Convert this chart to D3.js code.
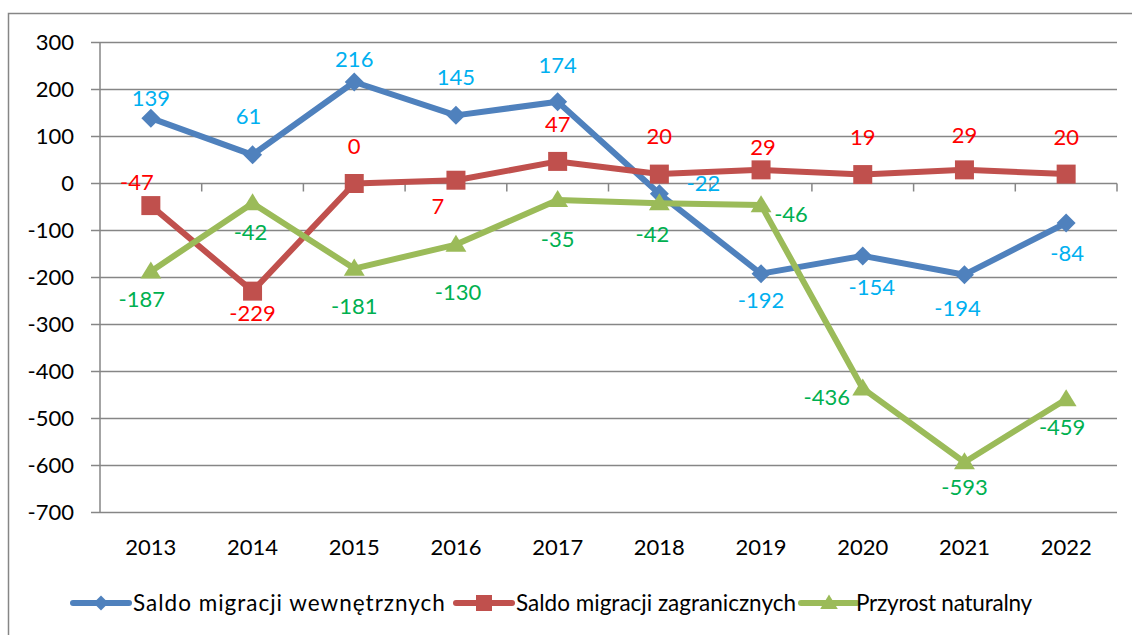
<!DOCTYPE html>
<html>
<head>
<meta charset="utf-8">
<script src="https://cdn.jsdelivr.net/npm/d3@7"></script>
<style>
  html, body { margin: 0; padding: 0; background: #fff; }
  svg { display: block; font-family: Lato, "Open Sans", sans-serif; }
</style>
</head>
<body>
<div id="chart"></div>
<script>
const years = ["2013", "2014", "2015", "2016", "2017", "2018", "2019", "2020", "2021", "2022"];
const internalMigration = [139, 61, 216, 145, 174, -22, -192, -154, -194, -84];
const foreignMigration = [-47, -229, 0, 7, 47, 20, 29, 19, 29, 20];
const naturalGrowth = [-187, -42, -181, -130, -35, -42, -46, -436, -593, -459];
const yTicks = [300, 200, 100, 0, -100, -200, -300, -400, -500, -600, -700];

// label offsets (dx, dy) from each point, like the placement in the original
const labelPos = {
    internal: [[0,-20],[-4,-39],[0,-23],[0,-38],[0,-37],[44,-11],[0,26],[9,31],[-7,33],[1,30]],
    foreign: [[-14,-24],[0,22],[0,-37],[-18,26],[0,-37],[0,-38],[2,-23],[0,-37],[0,-35],[0,-37]],
    natural: [[-9,28],[-2,29],[0,38],[2,47],[0,39],[-7,31],[30,9],[-36,9],[0,25],[-4,28]]
};

const series = [
    { key: "internal", name: "Saldo migracji wewnętrznych", values: internalMigration,
      color: "#4F81BD", labelColor: "#00B0F0", marker: "diamond" },
    { key: "foreign", name: "Saldo migracji zagranicznych", values: foreignMigration,
      color: "#C0504D", labelColor: "#FF0000", marker: "square" },
    { key: "natural", name: "Przyrost naturalny", values: naturalGrowth,
      color: "#9BBB59", labelColor: "#00B050", marker: "triangle" }
];

const width = 1132, height = 635;
const plot = { left: 100, right: 1117, top: 42.5, bottom: 512.5 };

const svg = d3.select("#chart").append("svg")
    .attr("width", width)
    .attr("height", height);

// outer frame
svg.append("path")
    .attr("d", `M8.5,${height} V13.5 H${width}`)
    .attr("fill", "none")
    .attr("stroke", "#868686")
    .attr("stroke-width", 1.5);

const x = d3.scaleBand().domain(years).range([plot.left, plot.right]);
const y = d3.scaleLinear().domain([-700, 300]).range([plot.bottom, plot.top]);
const cx = d => x(d) + x.bandwidth() / 2;

// gridlines
svg.append("g")
    .selectAll("line")
    .data(yTicks)
    .join("line")
    .attr("x1", plot.left - 9)
    .attr("x2", plot.right)
    .attr("y1", d => y(d))
    .attr("y2", d => y(d))
    .attr("stroke", "#868686")
    .attr("stroke-width", 1.5);

// y axis line
svg.append("line")
    .attr("x1", plot.left).attr("x2", plot.left)
    .attr("y1", y(300)).attr("y2", y(-700))
    .attr("stroke", "#868686").attr("stroke-width", 1.5);

// y tick labels
svg.append("g")
    .selectAll("text")
    .data(yTicks)
    .join("text")
    .attr("x", 74)
    .attr("y", d => y(d))
    .attr("dy", "0.36em")
    .attr("text-anchor", "end")
    .attr("font-size", 22)
    .attr("fill", "#000")
    .text(d => d);

// x tick marks on the zero line
svg.append("g")
    .selectAll("line")
    .data(years)
    .join("line")
    .attr("x1", d => x(d) + x.bandwidth())
    .attr("x2", d => x(d) + x.bandwidth())
    .attr("y1", y(0))
    .attr("y2", y(0) + 8)
    .attr("stroke", "#868686")
    .attr("stroke-width", 1.5);

// x labels
svg.append("g")
    .selectAll("text")
    .data(years)
    .join("text")
    .attr("x", d => cx(d))
    .attr("y", 547)
    .attr("dy", "0.36em")
    .attr("text-anchor", "middle")
    .attr("font-size", 22)
    .attr("fill", "#000")
    .text(d => d);

function markerPath(type, s) {
    if (type === "diamond") return `M0,${-s}L${s},0L0,${s}L${-s},0Z`;
    if (type === "square") return `M${-s},${-s}H${s}V${s}H${-s}Z`;
    return `M0,${-s * 1.05}L${s * 1.1},${s * 0.75}H${-s * 1.1}Z`;
}
const markerSize = { diamond: 9.5, square: 9.5, triangle: 9.5 };

const line = d3.line()
    .x((d, i) => cx(years[i]))
    .y(d => y(d));

series.forEach(s => {
    const g = svg.append("g");
    g.append("path")
        .attr("d", line(s.values))
        .attr("fill", "none")
        .attr("stroke", s.color)
        .attr("stroke-width", 6)
        .attr("stroke-linejoin", "round");
    g.selectAll("path.m")
        .data(s.values)
        .join("path")
        .attr("class", "m")
        .attr("transform", (d, i) => `translate(${cx(years[i])},${y(d)})`)
        .attr("d", markerPath(s.marker, markerSize[s.marker]))
        .attr("fill", s.color);
});

// data labels
series.forEach(s => {
    svg.append("g")
        .selectAll("text")
        .data(s.values)
        .join("text")
        .attr("x", (d, i) => cx(years[i]) + labelPos[s.key][i][0])
        .attr("y", (d, i) => y(d) + labelPos[s.key][i][1])
        .attr("dy", "0.36em")
        .attr("text-anchor", "middle")
        .attr("font-size", 22)
        .attr("fill", s.labelColor)
        .text(d => d);
});

// legend
const legendX = [73, 456, 801];
const legendTextW = [313, 280, 176];
const legendY = 603;
series.forEach((s, i) => {
    const g = svg.append("g").attr("transform", `translate(${legendX[i]},${legendY})`);
    g.append("line")
        .attr("x1", 0).attr("x2", 56)
        .attr("stroke", s.color)
        .attr("stroke-width", 6)
        .attr("stroke-linecap", "round");
    g.append("path")
        .attr("transform", "translate(28,0)")
        .attr("d", markerPath(s.marker, s.marker === "diamond" ? 7.5 : 8))
        .attr("fill", s.color);
    const t = g.append("text")
        .attr("x", i === 2 ? 55 : 60)
        .attr("dy", "0.36em")
        .attr("font-size", 22.5)
        .attr("fill", "#000")
        .text(s.name);
    // Calibri is wider than Lato here: spread letters to the original width
    const w = t.node().getComputedTextLength();
    t.attr("letter-spacing", ((legendTextW[i] - w) / s.name.length).toFixed(2));
});
</script>
</body>
</html>
